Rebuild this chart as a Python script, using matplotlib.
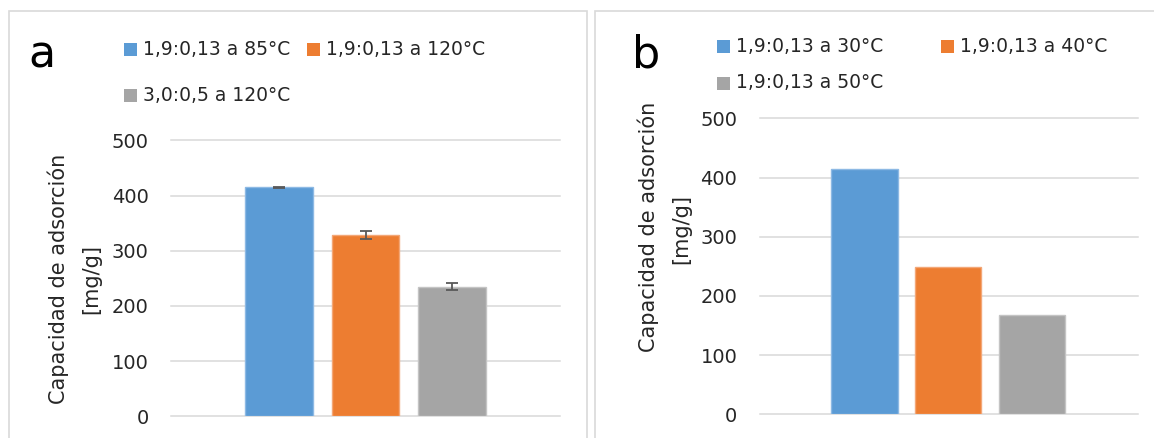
import matplotlib.pyplot as plt
from matplotlib.patches import Rectangle

W, H = 1154, 438
plt.rcParams['font.family'] = ['DejaVu Sans']

# panel a
labels_a = ["1,9:0,13 a 85°C", "1,9:0,13 a 120°C", "3,0:0,5 a 120°C"]
values_a = [415, 328, 235]
errors_a = [1, 7, 7]

# panel b
labels_b = ["1,9:0,13 a 30°C", "1,9:0,13 a 40°C", "1,9:0,13 a 50°C"]
values_b = [415, 249, 167]

yticks = [0, 100, 200, 300, 400, 500]
colors = ["#5B9BD5", "#ED7D31", "#A5A5A5"]
edges = ["#8DB9E4", "#F3A777", "#C4C4C4"]
GRID = "#D9D9D9"
TEXT = "#262626"


def px(x, y):
    # pixel position (from top-left) -> figure fraction
    return x / W, 1 - y / H


fig = plt.figure(figsize=(W / 100, H / 100), dpi=100)

# panel frames
for x0, x1 in [(9, 587), (595, 1170)]:
    fig.add_artist(Rectangle(px(x0, 460), (x1 - x0) / W, (460 - 11) / H,
                             transform=fig.transFigure, fill=False,
                             edgecolor=GRID, linewidth=1.2))


def make_axes(left, right, y0, y500, xlim):
    ax = fig.add_axes([left / W, (H - y0) / H, (right - left) / W, (y0 - y500) / H])
    ax.set_ylim(0, 500)
    ax.set_xlim(*xlim)
    ax.set_yticks(yticks)
    ax.set_xticks([])
    for s in ax.spines.values():
        s.set_visible(False)
    ax.tick_params(axis='y', length=0, pad=16, labelsize=14, labelcolor=TEXT)
    for v in yticks:
        ax.axhline(v, color=GRID, linewidth=1.1, zorder=0, clip_on=False)
    return ax


ax_a = make_axes(171, 560, 416.3, 140.3, (-1.25, 3.25))
for i, (v, e) in enumerate(zip(values_a, errors_a)):
    ax_a.bar(i, v, width=0.786, color=colors[i], edgecolor=edges[i],
             linewidth=1, zorder=2)
    ax_a.errorbar(i, v, yerr=e, color="#595959", capsize=4.5,
                  elinewidth=1.3, capthick=1.3, zorder=3)

ax_b = make_axes(759.5, 1138, 414.3, 118.3, (-1.254, 3.266))
for i, v in enumerate(values_b):
    ax_b.bar(i, v, width=0.79, color=colors[i], edgecolor=edges[i],
             linewidth=1, zorder=2)

# y labels
for (x1, x2, y1, y2) in [(58.5, 91.5, 278.5, 279), (648, 681, 226.5, 229)]:
    fig.text(*px(x1, y1), "Capacidad de adsorción", rotation=90,
             ha='center', va='center', fontsize=15, color=TEXT)
    fig.text(*px(x2, y2), "[mg/g]", rotation=90,
             ha='center', va='center', fontsize=15, color=TEXT)

# panel letters
fig.text(*px(28, 67), "a", fontsize=32, color="black", ha='left', va='baseline')
fig.text(*px(632, 67), "b", fontsize=32, color="black", ha='left', va='baseline')

# legends
SQ = 13
leg_pos_a = [(124, 49.5), (307, 49.5), (124, 95.5)]
leg_pos_b = [(717, 46), (941, 46), (717, 83)]
for labels, pos in [(labels_a, leg_pos_a), (labels_b, leg_pos_b)]:
    for i, (lab, (x, y)) in enumerate(zip(labels, pos)):
        fig.add_artist(Rectangle(px(x, y + SQ / 2), SQ / W, SQ / H,
                                 transform=fig.transFigure,
                                 facecolor=colors[i], edgecolor='none'))
        fig.text(*px(x + 19, y), lab, fontsize=13.5, color=TEXT,
                 ha='left', va='center')

fig.savefig("out.png", dpi=100)
